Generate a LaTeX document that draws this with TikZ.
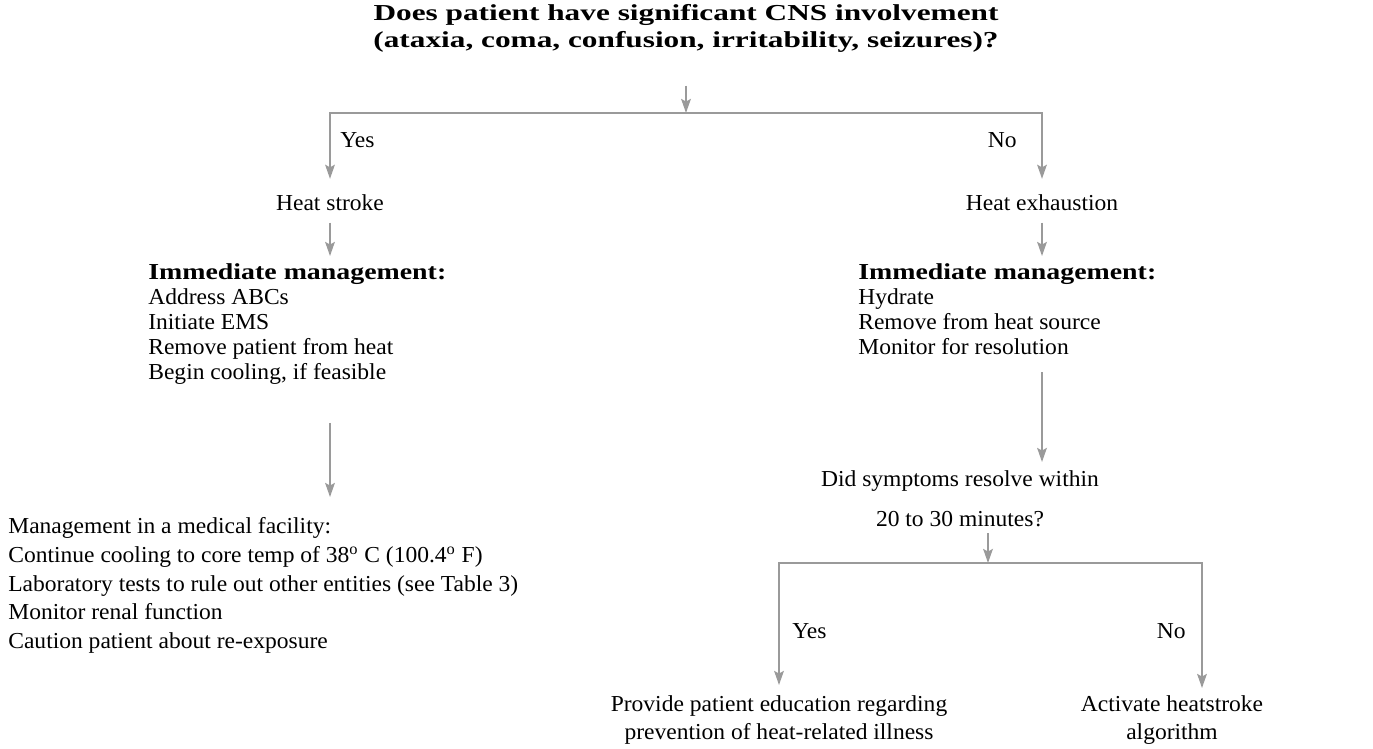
\documentclass[tikz,border=0pt]{standalone}
\usepackage{fontspec}
\setmainfont{Liberation Serif}[FakeStretch=1.03,BoldFeatures={FakeStretch=1.22}]
\newfontfamily\ttlfont{Liberation Serif}[UprightFont=*,BoldFont=* Bold,BoldFeatures={FakeStretch=1.37}]
\usepackage{tikz}
\usetikzlibrary{arrows.meta}
\definecolor{flowgray}{HTML}{9A9A9A}
\tikzset{
	txt/.style={inner sep=0pt,font=\fontsize{13}{15}\selectfont},
	ttl/.style={txt,align=center,font=\fontsize{13}{15.3}\selectfont\ttlfont\bfseries},
	lst/.style={txt,align=left,font=\fontsize{13}{14.3}\selectfont},
	mlst/.style={txt,align=left,font=\fontsize{13}{16.4}\selectfont},
	qst/.style={txt,align=center,font=\fontsize{13}{23}\selectfont},
	btm/.style={txt,align=center,font=\fontsize{13}{15.9}\selectfont},
	arr/.style={draw=flowgray,line width=1.1pt,-{Stealth[length=8pt,width=5.5pt,inset=1.5pt]}}
}

\begin{document}
\begin{tikzpicture}[x=0.02cm,y=-0.02cm]
	\useasboundingbox (0,0) rectangle (1373,748);
	% question
	\node [ttl,anchor=north] (cns) at (686,4) {Does patient have significant CNS involvement\\(ataxia, coma, confusion, irritability, seizures)?};
	\coordinate (split1) at (686,113);
	\node [txt,anchor=base west] (yes1) at (340,147) {Yes};
	\node [txt,anchor=base east] (no1) at (1017,147) {No};
	\node [txt,anchor=base] (stroke) at (330,210) {Heat stroke};
	\node [txt,anchor=base] (exh) at (1042,210) {Heat exhaustion};

	% left branch
	\node [lst,anchor=north west] (imstroke) at (148,263) {\textbf{Immediate management:}\\Address ABCs\\Initiate EMS\\Remove patient from heat\\Begin cooling, if feasible};
	\node [mlst,anchor=north west] (facility) at (8,517) {Management in a medical facility:\\Continue cooling to core temp of 38\textsuperscript{o} C (100.4\textsuperscript{o} F)\\Laboratory tests to rule out other entities (see Table 3)\\Monitor renal function\\Caution patient about re-exposure};

	% right branch
	\node [lst,anchor=north west] (imexh) at (858,263) {\textbf{Immediate management:}\\Hydrate\\Remove from heat source\\Monitor for resolution};
	\node [qst,anchor=north] (resolve) at (960,470) {Did symptoms resolve within\\20 to 30 minutes?};
	\coordinate (split2) at (988,563);
	\node [txt,anchor=base west] (yes2) at (792,638) {Yes};
	\node [txt,anchor=base east] (no2) at (1186,638) {No};
	\node [btm,anchor=north] (educ) at (779,695) {Provide patient education regarding\\prevention of heat-related illness};
	\node [btm,anchor=north] (algo) at (1172,695) {Activate heatstroke\\algorithm};

	\draw [arr,shorten <=0.66cm] (cns.south) -- (split1);
	\draw [arr,shorten >=0.3cm] (split1) -| (stroke);
	\draw [arr,shorten >=0.3cm] (split1) -| (exh);
	\draw [arr,shorten <=0.24cm,shorten >=0.14cm] (stroke) -- (stroke |- imstroke.north);
	\draw [arr,shorten <=0.24cm,shorten >=0.14cm] (exh) -- (exh |- imexh.north);
	\draw [arr,shorten <=0.76cm,shorten >=0.4cm] (imstroke.south -| stroke) -- (stroke |- facility.north);
	\draw [arr,shorten <=0.34cm,shorten >=0.16cm] (imexh.south -| exh) -- (exh |- resolve.north);
	\draw [arr,shorten <=0.12cm] (resolve.south -| split2) -- (split2);
	\draw [arr,shorten >=0.2cm] (split2) -| (educ.north);
	\draw [arr,shorten >=0.14cm] (split2) -| ([xshift=0.6cm]algo.north);
\end{tikzpicture}
\end{document}
